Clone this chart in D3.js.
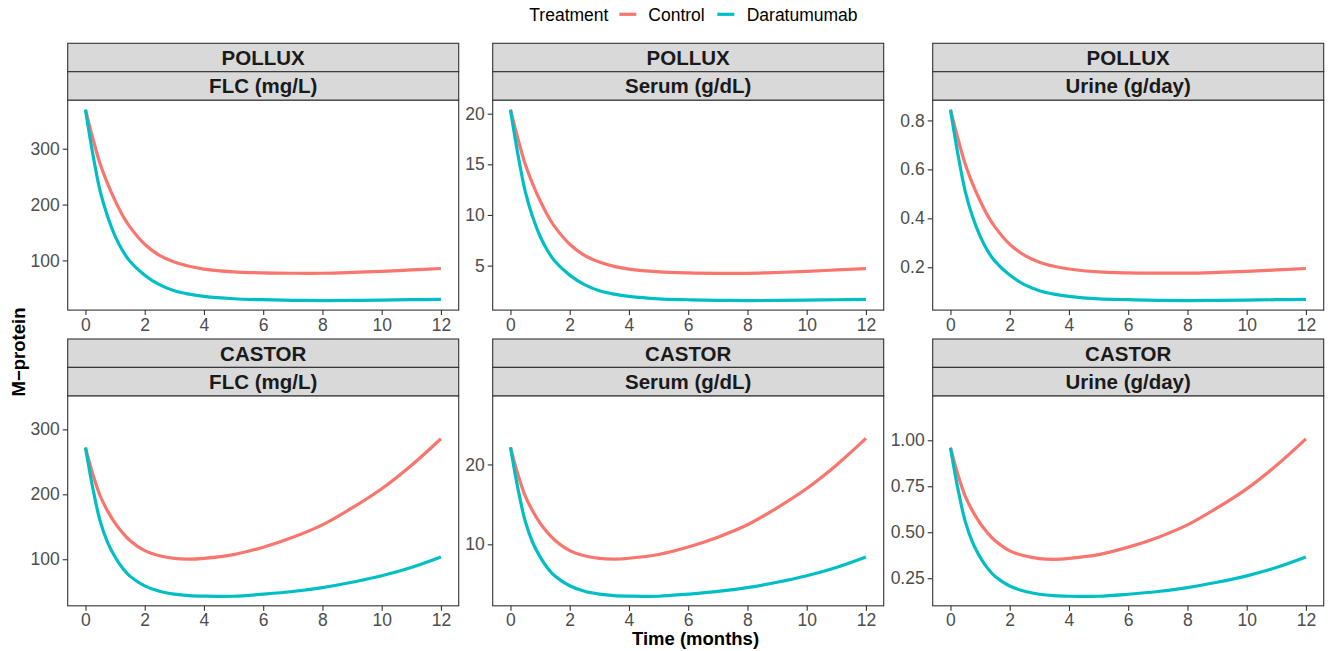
<!DOCTYPE html>
<html>
<head>
<meta charset="utf-8">
<script src="https://cdn.jsdelivr.net/npm/d3@7"></script>
<style>
  html, body { margin: 0; padding: 0; background: #ffffff; }
  svg { display: block; font-family: "Liberation Sans", Arial, sans-serif; }
</style>
</head>
<body>
<svg id="chart" width="1331" height="651"></svg>
<script>
// ---------------- data ----------------
const treatments = ["Control", "Daratumumab"];
const studies = ["POLLUX", "CASTOR"];
const measures = ["FLC (mg/L)", "Serum (g/dL)", "Urine (g/day)"];
const months = [0, 0.25, 0.5, 0.75, 1, 1.25, 1.5, 2, 2.5, 3, 3.5, 4, 5, 6, 7, 8, 9, 10, 11, 12];
const xTicks = [0, 2, 4, 6, 8, 10, 12];

// POLLUX
const polluxFlcControl = [370, 318, 272, 237, 207, 181, 160, 129, 109, 97, 89.5, 84.5, 79.6, 77.7, 77, 77, 78.4, 80.3, 82.9, 85.5];
const polluxFlcDara    = [370, 290, 223, 178, 143.5, 117.7, 98.5, 73.6, 56.6, 45.5, 39.5, 35.5, 31.3, 29.6, 28.5, 28.1, 28.3, 28.9, 29.6, 30.3];
const polluxSerumControl = [20.4, 17.54, 15.0, 13.06, 11.4, 9.98, 8.82, 7.11, 6.01, 5.35, 4.93, 4.66, 4.39, 4.28, 4.24, 4.24, 4.32, 4.43, 4.57, 4.71];
const polluxSerumDara    = [20.4, 16.01, 12.3, 9.79, 7.9, 6.49, 5.43, 4.06, 3.12, 2.51, 2.18, 1.96, 1.72, 1.63, 1.57, 1.55, 1.56, 1.59, 1.63, 1.66];
const polluxUrineControl = [0.844, 0.726, 0.621, 0.540, 0.472, 0.412, 0.365, 0.294, 0.249, 0.221, 0.204, 0.193, 0.181, 0.177, 0.176, 0.176, 0.179, 0.183, 0.189, 0.195];
const polluxUrineDara    = [0.844, 0.663, 0.509, 0.405, 0.327, 0.268, 0.225, 0.168, 0.129, 0.104, 0.090, 0.081, 0.071, 0.0675, 0.065, 0.064, 0.0646, 0.0658, 0.0675, 0.069];

// CASTOR
const castorFlcControl = [272, 230.7, 197, 174.1, 155.5, 140.8, 128.9, 113.2, 105.3, 101.2, 100.1, 101.4, 107.2, 118.6, 133.8, 152.9, 179, 208.6, 244.5, 285.6];
const castorFlcDara    = [272, 208.9, 158, 125.7, 103.5, 86.5, 74, 59, 50.6, 46.2, 44, 43.2, 43.0, 46.2, 50.3, 56.3, 64.5, 74.5, 87.3, 103.4];
const castorSerumControl = [22.15, 18.78, 16.04, 14.18, 12.66, 11.47, 10.5, 9.21, 8.57, 8.24, 8.15, 8.26, 8.73, 9.66, 10.9, 12.45, 14.57, 16.99, 19.91, 23.26];
const castorSerumDara    = [22.15, 17.01, 12.87, 10.23, 8.43, 7.04, 6.03, 4.81, 4.12, 3.77, 3.58, 3.52, 3.5, 3.77, 4.1, 4.59, 5.25, 6.07, 7.11, 8.42];
const castorUrineControl = [0.96, 0.814, 0.695, 0.614, 0.549, 0.497, 0.455, 0.399, 0.372, 0.357, 0.353, 0.358, 0.378, 0.419, 0.472, 0.540, 0.632, 0.736, 0.863, 1.008];
const castorUrineDara    = [0.96, 0.737, 0.558, 0.444, 0.365, 0.305, 0.261, 0.208, 0.179, 0.163, 0.155, 0.152, 0.152, 0.163, 0.178, 0.199, 0.228, 0.263, 0.308, 0.365];

// upper limits of the free y scales (values not drawn as lines)
const polluxUpper = [null, null, null];
const castorUpper = [337, 27.4, 1.19];

// y tick labels per panel
const polluxYTicks = [[100, 200, 300], [5, 10, 15, 20], [0.2, 0.4, 0.6, 0.8]];
const castorYTicks = [[100, 200, 300], [10, 20], [0.25, 0.50, 0.75, 1.00]];
const polluxYFormat = ["d", "d", ".1f"];
const castorYFormat = ["d", "d", ".2f"];

// ---------------- build panels ----------------
const seriesByStudy = {
  POLLUX: [[polluxFlcControl, polluxFlcDara], [polluxSerumControl, polluxSerumDara], [polluxUrineControl, polluxUrineDara]],
  CASTOR: [[castorFlcControl, castorFlcDara], [castorSerumControl, castorSerumDara], [castorUrineControl, castorUrineDara]]
};
const upperByStudy = { POLLUX: polluxUpper, CASTOR: castorUpper };
const ticksByStudy = { POLLUX: polluxYTicks, CASTOR: castorYTicks };
const formatByStudy = { POLLUX: polluxYFormat, CASTOR: castorYFormat };

const colors = d3.scaleOrdinal().domain(treatments).range(["#F8766D", "#00BFC4"]);

// ---------------- layout ----------------
const svg = d3.select("#chart");
const colLeft = [67.7, 492.7, 932.7];
const panelW = 391;
const stripTop = [43.3, 339];
const stripH = 28.4;
const panelH = 210;
const grey20 = "#333333";

const xExp = 12 * 0.05;
const x = d3.scaleLinear().domain([0 - xExp, 12 + xExp]).range([0, panelW]);

studies.forEach((study, r) => {
  measures.forEach((measure, c) => {
    const gx = colLeft[c];
    const sTop = stripTop[r];
    const pTop = sTop + 2 * stripH;
    const g = svg.append("g").attr("transform", `translate(${gx},${pTop})`);

    const series = seriesByStudy[study][c];
    const allVals = series.flat();
    const up = upperByStudy[study][c];
    if (up !== null) allVals.push(up);
    const ext = d3.extent(allVals);
    const pad = (ext[1] - ext[0]) * 0.05;
    const y = d3.scaleLinear().domain([ext[0] - pad, ext[1] + pad]).range([panelH, 0]);

    g.append("rect").attr("width", panelW).attr("height", panelH).attr("fill", "#fff");

    const line = d3.line()
      .x((d, i) => x(months[i]))
      .y(d => y(d))
      .curve(d3.curveCatmullRom.alpha(0.5));
    series.forEach((vals, k) => {
      g.append("path")
        .datum(vals)
        .attr("d", line)
        .attr("fill", "none")
        .attr("stroke", colors(treatments[k]))
        .attr("stroke-width", 3.2)
        .attr("stroke-linecap", "butt");
    });

    g.append("rect").attr("width", panelW).attr("height", panelH)
      .attr("fill", "none").attr("stroke", grey20).attr("stroke-width", 1.1);

    const yAxis = d3.axisLeft(y).tickValues(ticksByStudy[study][c])
      .tickFormat(d3.format(formatByStudy[study][c])).tickSize(5).tickPadding(3);
    const ya = g.append("g").call(yAxis);
    ya.select(".domain").remove();
    ya.selectAll(".tick line").attr("stroke", grey20).attr("stroke-width", 1.1);
    ya.selectAll(".tick text").attr("fill", "#4d4d4d").style("font-size", "17.5px")
      .style("font-family", "'Liberation Sans', Arial, sans-serif");

    const xAxis = d3.axisBottom(x).tickValues(xTicks).tickFormat(d3.format("d")).tickSize(5).tickPadding(3);
    const xa = g.append("g").attr("transform", `translate(0,${panelH})`).call(xAxis);
    xa.select(".domain").remove();
    xa.selectAll(".tick line").attr("stroke", grey20).attr("stroke-width", 1.1);
    xa.selectAll(".tick text").attr("fill", "#4d4d4d").style("font-size", "17.5px")
      .style("font-family", "'Liberation Sans', Arial, sans-serif");

    [study, measure].forEach((label, k) => {
      const sy = sTop + k * stripH;
      svg.append("rect").attr("x", gx).attr("y", sy).attr("width", panelW).attr("height", stripH)
        .attr("fill", "#D9D9D9").attr("stroke", grey20).attr("stroke-width", 1.1);
      svg.append("text").attr("x", gx + panelW / 2).attr("y", sy + stripH / 2)
        .attr("text-anchor", "middle").attr("dominant-baseline", "central")
        .attr("fill", "#1a1a1a").style("font-weight", "bold").style("font-size", "20.5px")
        .text(label);
    });
  });
});

svg.append("text").attr("x", 695.5).attr("y", 645).attr("text-anchor", "middle")
  .style("font-weight", "bold").style("font-size", "18.5px").attr("fill", "#000").text("Time (months)");
svg.append("text").attr("transform", "translate(25,352) rotate(-90)").attr("text-anchor", "middle")
  .style("font-weight", "bold").style("font-size", "18.5px").attr("fill", "#000").text("M\u2212protein");

const lg = svg.append("g");
lg.append("text").attr("x", 529.3).attr("y", 20.7).style("font-size", "17.5px").attr("fill", "#000").text("Treatment");
const keyX = [619.3, 717.3];
const labX = [648.3, 746.7];
treatments.forEach((t, i) => {
  lg.append("line").attr("x1", keyX[i]).attr("x2", keyX[i] + 17).attr("y1", 14.3).attr("y2", 14.3)
    .attr("stroke", colors(t)).attr("stroke-width", 3.2);
  lg.append("text").attr("x", labX[i]).attr("y", 20.7).style("font-size", "17.5px").attr("fill", "#000").text(t);
});
</script>
</body>
</html>
